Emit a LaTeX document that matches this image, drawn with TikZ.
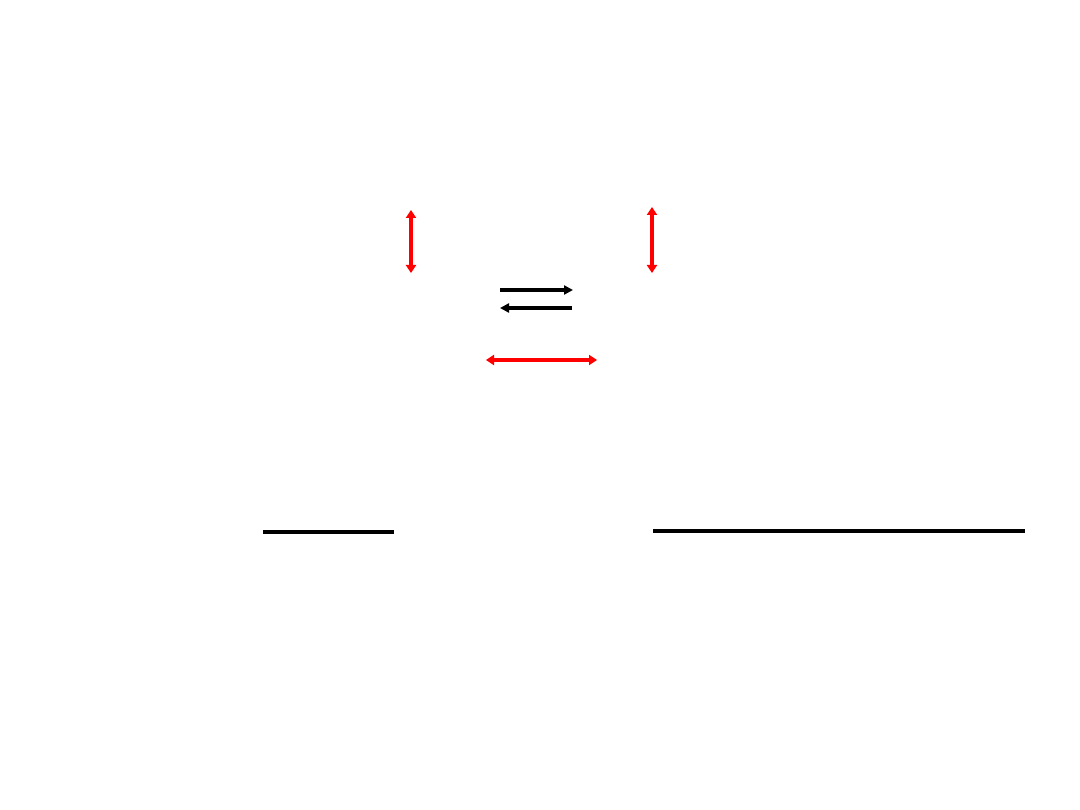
\documentclass[tikz,border=0pt]{standalone}
\usetikzlibrary{arrows.meta}
\begin{document}
\begin{tikzpicture}[x=1pt,y=-1pt,
  redarrow/.style={draw=red,line width=4pt,{Triangle[length=8pt,width=10pt]}-{Triangle[length=8pt,width=10pt]}},
  blackarrow/.style={draw=black,line width=3.6pt,-{Triangle[length=9pt,width=9pt]}},
  baseline/.style={draw=black,line width=4.4pt}]
\useasboundingbox[fill=white] (0,0) rectangle (1080,810);
\coordinate (v1t) at (411,210); \coordinate (v1b) at (411,273);
\coordinate (v2t) at (652,207); \coordinate (v2b) at (652,273);
\coordinate (r1s) at (500,290); \coordinate (r1e) at (573,290);
\coordinate (l1s) at (572,308); \coordinate (l1e) at (500,308);
\coordinate (hl) at (486,360); \coordinate (hr) at (597,360);
\coordinate (b1l) at (263,532); \coordinate (b1r) at (394,532);
\coordinate (b2l) at (653,531); \coordinate (b2r) at (1025,531);
\draw[redarrow] (v1t) -- (v1b);
\draw[redarrow] (v2t) -- (v2b);
\draw[blackarrow] (r1s) -- (r1e);
\draw[blackarrow] (l1s) -- (l1e);
\draw[redarrow] (hl) -- (hr);
\draw[baseline] (b1l) -- (b1r);
\draw[baseline] (b2l) -- (b2r);
\end{tikzpicture}
\end{document}
